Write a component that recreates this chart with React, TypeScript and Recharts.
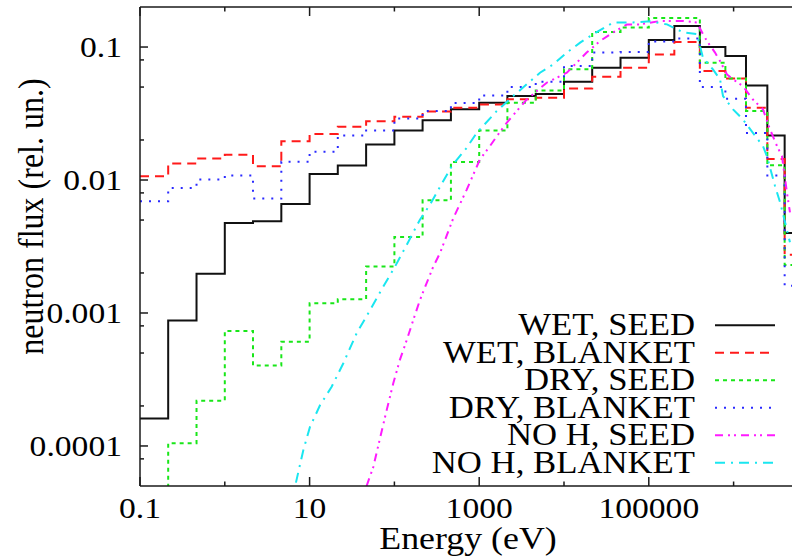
import React from 'react';
import { LineChart, Line, XAxis, YAxis, Legend } from 'recharts';

// Overall drawing surface; the energy axis runs on past the visible window to 10 MeV.
const CHART_W = 830;
const CHART_H = 556;
const VIEW_W = 792;
const FONT = '"Liberation Serif", "Times New Roman", serif';
const INK = '#1a1a1a';
const STRETCH = 1.12;

// Group boundaries in eV: 1/3-decade groups up to 100 keV, coarser fast groups above.
const BIN_EDGES = [
  0.1, 0.215, 0.464, 1, 2.15, 4.64, 10, 21.5, 46.4, 100, 215, 464, 1000, 2150, 4640,
  1e4, 2.15e4, 4.64e4, 1e5, 2e5, 4e5, 8e5, 1.4e6, 2.5e6, 4e6, 1e7,
];

// Group fluxes (one value per group)
const WET_SEED = [
  0.000161, 0.000877, 0.00197, 0.00475, 0.00489, 0.0066, 0.0111, 0.01285, 0.0185, 0.0236,
  0.0282, 0.034, 0.0381, 0.0428, 0.0443, 0.0548, 0.0699, 0.0832, 0.113, 0.144,
  0.1, 0.0855, 0.0514, 0.0216, 0.004,
];
const WET_BLANKET = [
  0.01066, 0.0133, 0.0145, 0.0155, 0.01268, 0.0196, 0.0222, 0.0251, 0.0277, 0.0299,
  0.0327, 0.0349, 0.037, 0.0404, 0.0416, 0.0487, 0.0598, 0.07, 0.088, 0.109,
  0.0659, 0.058, 0.0349, 0.0144, 0.00274,
];
const DRY_SEED = [
  0.00003, 0.000105, 0.000219, 0.000733, 0.000402, 0.000608, 0.001185, 0.00127, 0.00224, 0.00373,
  0.00703, 0.01368, 0.0236, 0.0381, 0.0472, 0.068, 0.13, 0.14, 0.165, 0.165,
  0.0762, 0.058, 0.033, 0.0129, 0.0023,
];
const DRY_BLANKET = [
  0.00692, 0.00871, 0.01007, 0.0108, 0.00725, 0.01369, 0.0163, 0.0216, 0.0236, 0.029,
  0.033, 0.038, 0.0432, 0.05, 0.0548, 0.072, 0.0908, 0.0917, 0.11, 0.1157,
  0.05, 0.0408, 0.0226, 0.0108, 0.0016,
];

// Fine-group spectra without hydrogen
const NO_H_SEED_ENERGY = [
  47, 56.4, 67.6, 81.1, 97, 116, 140, 167, 200, 240, 288, 345, 496, 713, 1020, 1340, 1610,
  2110, 2770, 3630, 4760, 6250, 10800, 14100, 18500, 26600, 38100, 55300, 78800, 136000,
  253000, 370000, 435000, 485000, 604000, 692000, 836000, 985000, 1.29e6, 1.69e6, 2.22e6,
  2.69e6, 3.25e6, 3.72e6, 4.26e6, 4.62e6,
];
const NO_H_SEED_FLUX = [
  5.0e-5, 6.95e-5, 1.14e-4, 1.86e-4, 2.96e-4, 4.44e-4, 6.27e-4, 8.86e-4, 1.25e-3, 1.68e-3,
  2.24e-3, 2.82e-3, 5.18e-3, 8.47e-3, 0.0143, 0.018, 0.0213, 0.0269, 0.033, 0.0403, 0.0466,
  0.0539, 0.0641, 0.0762, 0.0908, 0.111, 0.129, 0.148, 0.148, 0.157, 0.157, 0.153, 0.125,
  0.111, 0.0908, 0.0784, 0.0622, 0.0571, 0.0508, 0.0403, 0.034, 0.024, 0.018, 0.0151, 0.008,
  0.0057,
];
const NO_H_BLANKET_ENERGY = [
  6.9, 8.43, 10.1, 13.3, 18.2, 25, 35.9, 51.6, 74, 102, 140, 200, 263, 474, 713, 935, 1610,
  2520, 3630, 5210, 7480, 10800, 15500, 22200, 38100, 65200, 103000, 164000, 253000, 370000,
  435000, 571000, 692000, 750000, 985000, 1.29e6, 1.69e6, 2.22e6, 2.48e6, 3.08e6, 3.53e6,
  4.15e6, 4.62e6,
];
const NO_H_BLANKET_FLUX = [
  5.3e-5, 9.3e-5, 1.39e-4, 2.03e-4, 2.79e-4, 4.19e-4, 7.05e-4, 1.05e-3, 1.58e-3, 2.24e-3,
  3.26e-3, 5.03e-3, 6.53e-3, 0.0127, 0.0175, 0.0226, 0.033, 0.0428, 0.0524, 0.0641, 0.0741,
  0.0908, 0.108, 0.125, 0.153, 0.153, 0.156, 0.148, 0.129, 0.125, 0.0832, 0.0679, 0.0571,
  0.0428, 0.034, 0.0285, 0.0226, 0.018, 0.015, 0.009, 0.0068, 0.0045, 0.0034,
];

const SERIES_NAMES = [
  'WET, SEED',
  'WET, BLANKET',
  'DRY, SEED',
  'DRY, BLANKET',
  'NO H, SEED',
  'NO H, BLANKET',
];

const X_TICKS_MAJOR = [0.1, 10, 1000, 100000];
const X_TICK_LABELS = ['0.1', '10', '1000', '100000'];
const X_TICKS_MINOR = [1, 100, 10000, 1000000];
const Y_TICKS_MAJOR = [0.0001, 0.001, 0.01, 0.1];
const Y_TICK_LABELS = ['0.0001', '0.001', '0.01', '0.1'];
const Y_TICKS_MINOR = [0.00008, 0.0002, 0.0005, 0.0008, 0.002, 0.005, 0.008, 0.02, 0.05, 0.08];

const histogram = (values: number[]) =>
  BIN_EDGES.map((e, i) => ({ e, v: values[Math.min(i, values.length - 1)] }));
const curve = (energy: number[], flux: number[]) => energy.map((e, i) => ({ e, v: flux[i] }));

type Series = {
  name: string;
  data: { e: number; v: number }[];
  step: boolean;
  stroke: string;
  dash?: string;
  width: number;
};

const SERIES: Series[] = [
  { name: SERIES_NAMES[0], data: histogram(WET_SEED), step: true, stroke: '#111111', width: 2 },
  { name: SERIES_NAMES[1], data: histogram(WET_BLANKET), step: true, stroke: '#ff1a1a', dash: '9 6', width: 2 },
  { name: SERIES_NAMES[2], data: histogram(DRY_SEED), step: true, stroke: '#19e619', dash: '4 4', width: 2 },
  { name: SERIES_NAMES[3], data: histogram(DRY_BLANKET), step: true, stroke: '#2a2aff', dash: '2 7', width: 2 },
  { name: SERIES_NAMES[4], data: curve(NO_H_SEED_ENERGY, NO_H_SEED_FLUX), step: false, stroke: '#ff1aff', dash: '8 5 2 4 2 5', width: 2 },
  { name: SERIES_NAMES[5], data: curve(NO_H_BLANKET_ENERGY, NO_H_BLANKET_FLUX), step: false, stroke: '#1ae6f0', dash: '10 6 2 6', width: 2 },
];

const textStyle = { fontFamily: FONT, fontSize: 30, fill: '#000' };
const legendTextStyle = { fontFamily: FONT, fontSize: 31, fill: '#000' };

const BottomTick = (props: any) => {
  const { x, y, payload } = props;
  const idx = X_TICKS_MAJOR.indexOf(payload.value);
  const major = idx >= 0;
  return (
    <g>
      <line x1={x} x2={x} y1={y} y2={y - (major ? 9 : 4.5)} stroke={INK} strokeWidth={1.5} />
      {major && (
        <text
          x={0}
          y={0}
          transform={`translate(${x} ${y + 32}) scale(${STRETCH} 1)`}
          textAnchor="middle"
          style={textStyle}
        >
          {X_TICK_LABELS[idx]}
        </text>
      )}
    </g>
  );
};

const TopTick = (props: any) => {
  const { x, y, payload } = props;
  const major = X_TICKS_MAJOR.includes(payload.value);
  return <line x1={x} x2={x} y1={y} y2={y + (major ? 9 : 4.5)} stroke={INK} strokeWidth={1.5} />;
};

const LeftTick = (props: any) => {
  const { x, y, payload } = props;
  const idx = Y_TICKS_MAJOR.indexOf(payload.value);
  const major = idx >= 0;
  return (
    <g>
      <line x1={x} x2={x + (major ? 8 : 4)} y1={y} y2={y} stroke={INK} strokeWidth={1.5} />
      {major && (
        <text
          x={0}
          y={0}
          transform={`translate(${x - 18} ${y + 10}) scale(${STRETCH} 1)`}
          textAnchor="end"
          style={textStyle}
        >
          {Y_TICK_LABELS[idx]}
        </text>
      )}
    </g>
  );
};

const XTitle = () => (
  <text
    x={0}
    y={0}
    transform={`translate(468 549) scale(${STRETCH} 1)`}
    textAnchor="middle"
    style={{ fontFamily: FONT, fontSize: 32, fill: '#000' }}
  >
    Energy (eV)
  </text>
);

const YTitle = () => (
  <text
    x={0}
    y={0}
    transform={`translate(43 216.5) rotate(-90) scale(1 ${STRETCH})`}
    textAnchor="middle"
    style={{ fontFamily: FONT, fontSize: 32, fill: '#000' }}
  >
    neutron flux (rel. un.)
  </text>
);

const LegendBlock = () => (
  <svg
    width={CHART_W}
    height={CHART_H}
    style={{ position: 'absolute', left: 0, top: 0, overflow: 'visible', pointerEvents: 'none' }}
  >
    {SERIES.map((s, i) => {
      const base = 335.3 + i * 27.5;
      return (
        <g key={s.name}>
          <text
            x={0}
            y={0}
            transform={`translate(695 ${base}) scale(${STRETCH} 1)`}
            textAnchor="end"
            style={legendTextStyle}
          >
            {s.name}
          </text>
          <line
            x1={715}
            x2={775}
            y1={base - 10}
            y2={base - 10}
            stroke={s.stroke}
            strokeWidth={s.width}
            strokeDasharray={s.dash}
          />
        </g>
      );
    })}
  </svg>
);

export default function App() {
  return (
    <div
      style={{
        position: 'absolute',
        left: 0,
        top: 0,
        width: VIEW_W,
        height: CHART_H,
        overflow: 'hidden',
        background: '#ffffff',
      }}
    >
      <LineChart width={CHART_W} height={CHART_H} margin={{ top: 0, right: 11.6, bottom: 0, left: 0 }}>
        <XAxis
          dataKey="e"
          type="number"
          scale="log"
          domain={[0.1, 1e7]}
          allowDataOverflow
          ticks={[...X_TICKS_MAJOR, ...X_TICKS_MINOR]}
          interval={0}
          tickLine={false}
          tickSize={0}
          tickMargin={0}
          height={70}
          axisLine={{ stroke: INK, strokeWidth: 1.5 }}
          tick={BottomTick}
          label={XTitle}
        />
        <XAxis
          xAxisId="top"
          orientation="top"
          dataKey="e"
          type="number"
          scale="log"
          domain={[0.1, 1e7]}
          allowDataOverflow
          ticks={[...X_TICKS_MAJOR, ...X_TICKS_MINOR]}
          interval={0}
          tickLine={false}
          tickSize={0}
          tickMargin={0}
          height={7}
          axisLine={{ stroke: INK, strokeWidth: 1.5 }}
          tick={TopTick}
        />
        <YAxis
          type="number"
          scale="log"
          domain={[5e-5, 0.2]}
          allowDataOverflow
          ticks={[...Y_TICKS_MAJOR, ...Y_TICKS_MINOR]}
          interval={0}
          tickLine={false}
          tickSize={0}
          tickMargin={0}
          width={140}
          axisLine={{ stroke: INK, strokeWidth: 1.5 }}
          tick={LeftTick}
          label={YTitle}
        />
        {SERIES.map((s) => (
          <Line
            key={s.name}
            name={s.name}
            data={s.data}
            dataKey="v"
            type={s.step ? 'stepAfter' : 'linear'}
            stroke={s.stroke}
            strokeWidth={s.width}
            strokeDasharray={s.dash}
            dot={false}
            activeDot={false}
            isAnimationActive={false}
          />
        ))}
        <Legend
          layout="horizontal"
          verticalAlign="middle"
          align="center"
          wrapperStyle={{ position: 'absolute', left: 0, top: 0, width: 0, height: 0, overflow: 'visible' }}
          content={() => <LegendBlock />}
        />
      </LineChart>
    </div>
  );
}
